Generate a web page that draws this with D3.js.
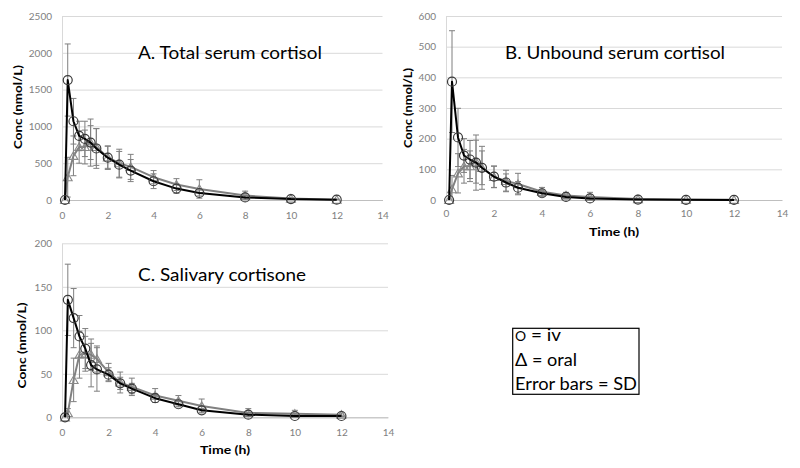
<!DOCTYPE html>
<html><head><meta charset="utf-8">
<script src="https://cdn.jsdelivr.net/npm/d3@7"></script>
<style>
body{margin:0;background:#fff;}
svg text{font-family:Lato,"Open Sans","Liberation Sans",sans-serif;}
</style></head><body>
<svg id="chart" width="800" height="468"></svg>
<script>
// ---- data ----
const times = [0.13,0.25,0.5,0.75,1,1.25,1.5,2,2.5,3,4,5,6,8,10,12];

const totalIV     = [0,1630,1070,870,830,780,700,575,480,400,255,155,95,35,12,5];
const totalIVsd   = [0,490,310,200,240,320,270,160,180,150,100,65,40,25,8,5];
const totalOral   = [0,310,600,720,720,780,720,580,500,450,310,210,150,60,20,5];
const totalOralsd = [0,270,270,220,230,230,250,150,190,170,90,80,125,60,12,5];

const unboundIV     = [0,386,204,145,132,122,105,76,57,40,22,10,5,1.5,0.5,0.3];
const unboundIVsd   = [0,166,95,55,62,90,70,35,28,20,10,6,4,1,0.5,0.3];
const unboundOral   = [0,35,87,110,110,125,105,75,62,52,27,15,10,3,1,0.5];
const unboundOralsd = [0,45,64,55,50,70,55,35,35,35,14,10,15,3,1,0.5];

const salivaIV     = [0,135,114,93,79,60,55,49,39,33,22,15,8,3,1.5,1.5];
const salivaIVsd   = [0,41,34,24,23,25,25,8,7,6,5,3,2,2,1,1];
const salivaOral   = [0,5,43,72,73,72,67,52,40,35,25,19,13,5,4,3];
const salivaOralsd = [0,5,25,27,20,18,15,10,12,10,8,6,8,5,4,2];

const xTicks = [0,2,4,6,8,10,12,14];
const yTicksTotal   = [0,500,1000,1500,2000,2500];
const yTicksUnbound = [0,100,200,300,400,500,600];
const yTicksSaliva  = [0,50,100,150,200];

const panelTitles = ["A. Total serum cortisol","B. Unbound serum cortisol","C. Salivary cortisone"];
const yAxisTitle = "Conc (nmol/L)";
const xAxisTitle = "Time (h)";
const legendLines = ["= iv","Δ = oral","Error bars = SD"];

// ---- drawing ----
const svg = d3.select("#chart");
svg.append("rect").attr("width",800).attr("height",468).attr("fill","#fff");

const FONT = 'Lato,"Open Sans","Liberation Sans",sans-serif';
const GRID = "#d9d9d9", TICKTXT = "#808080", ORAL = "#808080", BAR = "#7f7f7f";

function fit(sel, w){ sel.attr("textLength", w).attr("lengthAdjust","spacingAndGlyphs"); }

function drawPanel(cfg){
  const g = svg.append("g");
  if (cfg.bg) g.append("rect").attr("x",cfg.bg[0]).attr("y",cfg.bg[1]).attr("width",cfg.bg[2]).attr("height",cfg.bg[3]).attr("fill","#fff");
  const x = d3.scaleLinear().domain([0,14]).range([cfg.x0,cfg.x1]);
  const y = d3.scaleLinear().domain([0,cfg.yMax]).range([cfg.y0,cfg.y1]);

  // y axis with gridlines
  const ya = g.append("g").attr("transform",`translate(${cfg.x0},0)`)
    .call(d3.axisLeft(y).tickValues(cfg.yTicks).tickSize(-(cfg.x1-cfg.x0)).tickSizeOuter(0).tickPadding(10).tickFormat(d3.format("d")));
  ya.attr("font-family",FONT).attr("font-size",10);
  ya.select(".domain").attr("stroke",GRID);
  ya.selectAll(".tick line").attr("stroke",GRID).attr("stroke-width",1);
  ya.selectAll(".tick text").attr("fill",TICKTXT);

  // x axis
  const xa = g.append("g").attr("transform",`translate(0,${cfg.y0})`)
    .call(d3.axisBottom(x).tickValues(xTicks).tickSize(0).tickSizeOuter(0).tickPadding(cfg.xPad));
  xa.attr("font-family",FONT).attr("font-size",10);
  xa.select(".domain").attr("stroke","#bfbfbf");
  xa.selectAll(".tick text").attr("fill",TICKTXT);

  // titles
  const t = g.append("text").attr("x",cfg.tx).attr("y",cfg.ty).attr("font-size",18).attr("fill","#000").text(cfg.title);
  fit(t, cfg.tw);
  const yt = g.append("text").attr("transform",`translate(${cfg.ylx},${cfg.yly}) rotate(-90)`)
    .attr("text-anchor","middle").attr("font-size",12).attr("font-weight","bold").attr("fill","#000").text(yAxisTitle);
  fit(yt, cfg.ylw);
  if (cfg.xtClip) {
    const cid = "clip"+cfg.id;
    svg.append("clipPath").attr("id",cid).append("rect").attr("x",0).attr("y",0).attr("width",800).attr("height",cfg.xtClip);
  }
  const xt = g.append("text").attr("x",(cfg.x0+cfg.x1)/2).attr("y",cfg.xty).attr("text-anchor","middle")
    .attr("font-size",12).attr("font-weight","bold").attr("fill","#000").text(xAxisTitle);
  fit(xt, 50);
  if (cfg.xtClip) xt.attr("clip-path",`url(#clip${cfg.id})`);

  const line = d3.line().x((d,i)=>x(times[i])).y(d=>y(d));

  function series(vals, sds, color, marker){
    const eb = g.append("g").attr("stroke",BAR).attr("stroke-width",1);
    vals.forEach((v,i)=>{
      const s = sds[i]; if (!s) return;
      const xx = x(times[i]), lo = y(Math.max(0,v-s)), hi = y(v+s);
      eb.append("line").attr("x1",xx).attr("x2",xx).attr("y1",lo).attr("y2",hi);
      eb.append("line").attr("x1",xx-3).attr("x2",xx+3).attr("y1",hi).attr("y2",hi);
      if (v-s>0) eb.append("line").attr("x1",xx-3).attr("x2",xx+3).attr("y1",lo).attr("y2",lo);
    });
    g.append("path").datum(vals).attr("d",line).attr("fill","none").attr("stroke",color).attr("stroke-width",2).attr("stroke-linejoin","round");
    const m = g.append("g");
    vals.forEach((v,i)=>{
      if (marker==="circle") m.append("circle").attr("cx",x(times[i])).attr("cy",y(v)).attr("r",4.5).attr("fill","none").attr("stroke","#3a3a3a").attr("stroke-width",1.2);
      else m.append("path").attr("d",d3.symbol(d3.symbolTriangle).size(34)()).attr("transform",`translate(${x(times[i])},${y(v)+1})`).attr("fill","none").attr("stroke","#8a8a8a").attr("stroke-width",1.1);
    });
  }
  series(cfg.oral, cfg.oralSD, ORAL, "tri");
  series(cfg.iv, cfg.ivSD, "#000", "circle");
}

drawPanel({id:"A",x0:62,x1:382.5,y0:200,y1:16,yMax:2500,yTicks:yTicksTotal,xPad:11.5,
  title:panelTitles[0],tx:138,ty:59,tw:184,ylx:22,yly:107,ylw:84,xty:241,xtClip:231,
  iv:totalIV,ivSD:totalIVsd,oral:totalOral,oralSD:totalOralsd});
drawPanel({id:"B",x0:446,x1:782,y0:200,y1:16,yMax:600,yTicks:yTicksUnbound,xPad:9.5,
  title:panelTitles[1],tx:505,ty:58.5,tw:220,ylx:412,yly:108,ylw:80,xty:236,
  iv:unboundIV,ivSD:unboundIVsd,oral:unboundOral,oralSD:unboundOralsd});
drawPanel({id:"C",bg:[0,231,420,237],x0:62,x1:388,y0:417.3,y1:243.3,yMax:200,yTicks:yTicksSaliva,xPad:11.6,
  title:panelTitles[2],tx:138,ty:280.5,tw:168,ylx:26,yly:345.5,ylw:86,xty:454,
  iv:salivaIV,ivSD:salivaIVsd,oral:salivaOral,oralSD:salivaOralsd});

// legend
const lg = svg.append("g");
lg.append("rect").attr("x",512.7).attr("y",328.3).attr("width",126.3).attr("height",66).attr("fill","#fff").attr("stroke","#000").attr("stroke-width",1.2);
const l1 = lg.append("text").attr("x",515).attr("y",340.7).attr("font-size",17).attr("fill","#000");
l1.append("tspan").attr("font-size",12.5).text("O");
l1.append("tspan").text(" " + legendLines[0]);
fit(l1, 46);
const l2 = lg.append("text").attr("x",515).attr("y",365.7).attr("font-size",17).attr("fill","#000").text(legendLines[1]);
fit(l2, 62);
const l3 = lg.append("text").attr("x",515).attr("y",390).attr("font-size",17).attr("fill","#000").text(legendLines[2]);
fit(l3, 122);
</script>
</body></html>
